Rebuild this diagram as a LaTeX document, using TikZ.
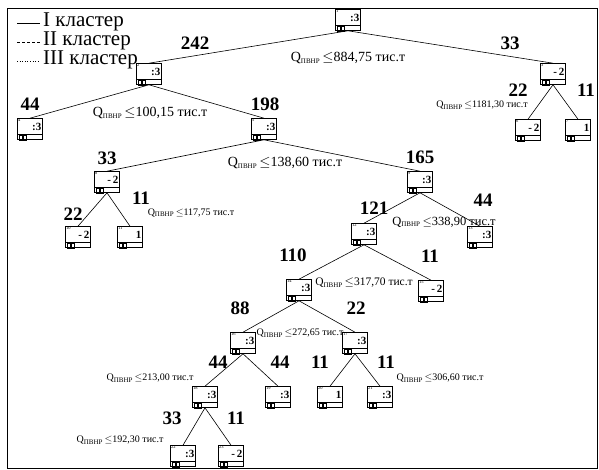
\documentclass[tikz,border=0pt]{standalone}
\usepackage{fontspec}
\setmainfont{Liberation Serif}
\begin{document}
\begin{tikzpicture}[x=1pt,y=-1pt,
  nd/.style={draw, line width=0.6pt, minimum width=25pt, minimum height=21pt, inner sep=0pt},
  edge/.style={line width=0.6pt},
  cnt/.style={font=\bfseries\fontsize{19}{19}\selectfont, inner sep=0pt},
  qbig/.style={font=\fontsize{14}{14}\selectfont, inner sep=0pt},
  qmid/.style={font=\fontsize{12.5}{12.5}\selectfont, inner sep=0pt},
  qmidb/.style={font=\fontsize{11.5}{11.5}\selectfont, inner sep=0pt},
  qsmall/.style={font=\fontsize{10}{10}\selectfont, inner sep=0pt},
  leg/.style={font=\fontsize{21}{21}\selectfont, anchor=west, inner sep=0pt}]
\newcommand\Q{Q\textsubscript{\fontsize{7}{7}\selectfont ПВНР}\,}
\newcommand\tnode[5]{%
  \node[nd] (#1) at (#2,#3) {};
  \node[font=\fontsize{4.5}{4.5}\selectfont, anchor=north west, inner sep=0.6pt] at (#1.north west) {#4};
  \node[font=\bfseries\fontsize{11}{11}\selectfont, anchor=east, inner sep=1.2pt] at ([yshift=2pt]#1.east) {#5};
  \draw[line width=0.4pt] ([yshift=6pt]#1.south west) -- ([yshift=6pt]#1.south east);
  \draw[line width=0.5pt] ([xshift=2pt]#1.south west) rectangle ([xshift=5pt,yshift=4.5pt]#1.south west);
  \draw[line width=0.5pt] ([xshift=6pt]#1.south west) rectangle ([xshift=9pt,yshift=4.5pt]#1.south west);
}
\useasboundingbox (0,0) rectangle (599,470);
\draw[line width=0.6pt] (7,8) rectangle (597,468);
% legend
\coordinate (l1a) at (17,23); \coordinate (l1b) at (40,23);
\coordinate (l2a) at (17,42); \coordinate (l2b) at (40,42);
\coordinate (l3a) at (17,61); \coordinate (l3b) at (40,61);
\draw[line width=0.6pt] (l1a) -- (l1b);
\draw[line width=0.6pt, dash pattern=on 3pt off 2pt] (l2a) -- (l2b);
\draw[line width=0.6pt, dotted] (l3a) -- (l3b);
\node[leg] (t1) at (43,22) {I кластер};
\node[leg] (t2) at (43,41) {II кластер};
\node[leg] (t3) at (43,60) {III кластер};
% nodes
\tnode{n1}{348}{20}{1}{:3}
\tnode{n2}{149}{74}{2}{:3}
\tnode{n3}{553}{74}{3}{-\,2}
\tnode{n4}{30}{129}{4}{:3}
\tnode{n5}{264}{129}{5}{:3}
\tnode{n6}{528}{130}{6}{-\,2}
\tnode{n7}{578}{130}{7}{1}
\tnode{n8}{107}{182}{8}{-\,2}
\tnode{n9}{420}{182}{9}{:3}
\tnode{n10}{78}{237}{10}{-\,2}
\tnode{n11}{130}{237}{11}{1}
\tnode{n12}{364}{234}{12}{:3}
\tnode{n13}{480}{237}{13}{:3}
\tnode{n14}{299}{290}{14}{:3}
\tnode{n15}{431}{291}{15}{-\,2}
\tnode{n16}{243}{343}{16}{:3}
\tnode{n17}{355}{343}{17}{:3}
\tnode{n18}{205}{397}{18}{:3}
\tnode{n19}{278}{397}{19}{:3}
\tnode{n20}{330}{397}{20}{1}
\tnode{n21}{380}{397}{21}{:3}
\tnode{n22}{183}{456}{22}{:3}
\tnode{n23}{231}{456}{23}{-\,2}
% edges
\foreach \p/\c in {n1/n2,n1/n3,n2/n4,n2/n5,n3/n6,n3/n7,n5/n8,n5/n9,n8/n10,n8/n11,n9/n12,n9/n13,n12/n14,n12/n15,n14/n16,n14/n17,n16/n18,n16/n19,n17/n20,n17/n21,n18/n22,n18/n23}
  \draw[edge] (\p.south) -- (\c.north);
% counts
\node[cnt] (c2) at (195,43) {242};
\node[cnt] (c3) at (510,43) {33};
\node[cnt] (c4) at (30,104) {44};
\node[cnt] (c5) at (265,104) {198};
\node[cnt] (c6) at (518,90) {22};
\node[cnt] (c7) at (586,90) {11};
\node[cnt] (c8) at (107,158) {33};
\node[cnt] (c9) at (420,157) {165};
\node[cnt] (c10) at (73,214) {22};
\node[cnt] (c11) at (141,198) {11};
\node[cnt] (c12) at (374,208) {121};
\node[cnt] (c13) at (483,200) {44};
\node[cnt] (c14) at (293,255) {110};
\node[cnt] (c15) at (430,256) {11};
\node[cnt] (c16) at (240,308) {88};
\node[cnt] (c17) at (356,308) {22};
\node[cnt] (c18) at (218,362) {44};
\node[cnt] (c19) at (280,362) {44};
\node[cnt] (c20) at (320,362) {11};
\node[cnt] (c21) at (386,362) {11};
\node[cnt] (c22) at (172,418) {33};
\node[cnt] (c23) at (236,418) {11};
% split rules
\node[qbig] (q1) at (348,58) {\Q$\leq$884,75 тис.т};
\node[qsmall] (q3) at (482,105) {\Q$\leq$1181,30 тис.т};
\node[qbig] (q2) at (150,113) {\Q$\leq$100,15 тис.т};
\node[qbig] (q5) at (285,163) {\Q$\leq$138,60 тис.т};
\node[qsmall] (q8) at (191,213) {\Q$\leq$117,75 тис.т};
\node[qmid] (q9) at (444,222) {\Q$\leq$338,90 тис.т};
\node[qmidb] (q12) at (364,283) {\Q$\leq$317,70 тис.т};
\node[qsmall] (q14) at (300,333) {\Q$\leq$272,65 тис.т};
\node[qsmall] (q16) at (150,378) {\Q$\leq$213,00 тис.т};
\node[qsmall] (q17) at (440,378) {\Q$\leq$306,60 тис.т};
\node[qsmall] (q18) at (120,440) {\Q$\leq$192,30 тис.т};
\end{tikzpicture}
\end{document}
